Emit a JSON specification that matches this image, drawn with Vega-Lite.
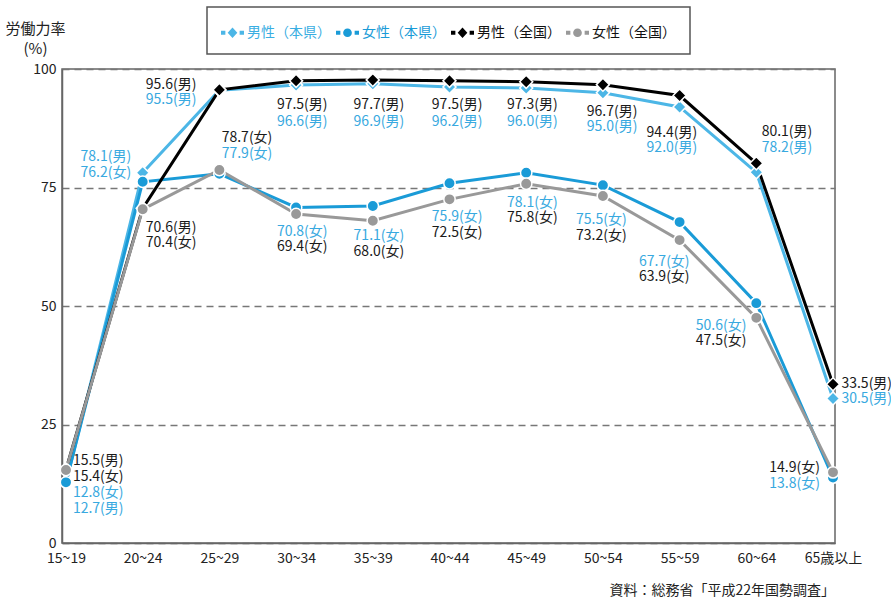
{
  "$schema": "https://vega.github.io/schema/vega-lite/v6.json",
  "width": 773,
  "height": 474,
  "autosize": {"type": "none"},
  "padding": {"left": 62, "top": 69, "right": 56, "bottom": 55},
  "background": "white",
  "config": {
    "font": "Noto Sans CJK JP",
    "view": {"stroke": "#666", "strokeWidth": 1.5},
    "axis": {"labelFont": "Noto Sans CJK JP", "titleFont": "Noto Sans CJK JP"},
    "legend": {"labelFont": "Noto Sans CJK JP"}
  },
  "title": {
    "text": "資料：総務省「平成22年国勢調査」",
    "orient": "bottom",
    "anchor": "end",
    "frame": "group",
    "fontSize": 14,
    "fontWeight": "normal",
    "color": "#222",
    "offset": 19
  },
  "datasets": {
    "main": [
      {"series": "男性（本県）", "start": 15, "value": 12.7},
      {"series": "男性（本県）", "start": 20, "value": 78.1},
      {"series": "男性（本県）", "start": 25, "value": 95.5},
      {"series": "男性（本県）", "start": 30, "value": 96.6},
      {"series": "男性（本県）", "start": 35, "value": 96.9},
      {"series": "男性（本県）", "start": 40, "value": 96.2},
      {"series": "男性（本県）", "start": 45, "value": 96.0},
      {"series": "男性（本県）", "start": 50, "value": 95.0},
      {"series": "男性（本県）", "start": 55, "value": 92.0},
      {"series": "男性（本県）", "start": 60, "value": 78.2},
      {"series": "男性（本県）", "start": 65, "value": 30.5},
      {"series": "女性（本県）", "start": 15, "value": 12.8},
      {"series": "女性（本県）", "start": 20, "value": 76.2},
      {"series": "女性（本県）", "start": 25, "value": 77.9},
      {"series": "女性（本県）", "start": 30, "value": 70.8},
      {"series": "女性（本県）", "start": 35, "value": 71.1},
      {"series": "女性（本県）", "start": 40, "value": 75.9},
      {"series": "女性（本県）", "start": 45, "value": 78.1},
      {"series": "女性（本県）", "start": 50, "value": 75.5},
      {"series": "女性（本県）", "start": 55, "value": 67.7},
      {"series": "女性（本県）", "start": 60, "value": 50.6},
      {"series": "女性（本県）", "start": 65, "value": 13.8},
      {"series": "男性（全国）", "start": 15, "value": 15.5},
      {"series": "男性（全国）", "start": 20, "value": 70.6},
      {"series": "男性（全国）", "start": 25, "value": 95.6},
      {"series": "男性（全国）", "start": 30, "value": 97.5},
      {"series": "男性（全国）", "start": 35, "value": 97.7},
      {"series": "男性（全国）", "start": 40, "value": 97.5},
      {"series": "男性（全国）", "start": 45, "value": 97.3},
      {"series": "男性（全国）", "start": 50, "value": 96.7},
      {"series": "男性（全国）", "start": 55, "value": 94.4},
      {"series": "男性（全国）", "start": 60, "value": 80.1},
      {"series": "男性（全国）", "start": 65, "value": 33.5},
      {"series": "女性（全国）", "start": 15, "value": 15.4},
      {"series": "女性（全国）", "start": 20, "value": 70.4},
      {"series": "女性（全国）", "start": 25, "value": 78.7},
      {"series": "女性（全国）", "start": 30, "value": 69.4},
      {"series": "女性（全国）", "start": 35, "value": 68.0},
      {"series": "女性（全国）", "start": 40, "value": 72.5},
      {"series": "女性（全国）", "start": 45, "value": 75.8},
      {"series": "女性（全国）", "start": 50, "value": 73.2},
      {"series": "女性（全国）", "start": 55, "value": 63.9},
      {"series": "女性（全国）", "start": 60, "value": 47.5},
      {"series": "女性（全国）", "start": 65, "value": 14.9}
    ],
    "labels": [
      {"series": "男性（全国）", "text": "15.5(男)", "lx": 17.1, "ly": 17.3},
      {"series": "女性（全国）", "text": "15.4(女)", "lx": 17.1, "ly": 13.9},
      {"series": "女性（本県）", "text": "12.8(女)", "lx": 17.1, "ly": 10.5},
      {"series": "男性（本県）", "text": "12.7(男)", "lx": 17.1, "ly": 7.2},
      {"series": "男性（本県）", "text": "78.1(男)", "lx": 17.6, "ly": 81.4},
      {"series": "女性（本県）", "text": "76.2(女)", "lx": 17.6, "ly": 78.1},
      {"series": "男性（全国）", "text": "70.6(男)", "lx": 21.85, "ly": 66.5},
      {"series": "女性（全国）", "text": "70.4(女)", "lx": 21.85, "ly": 63.3},
      {"series": "男性（全国）", "text": "95.6(男)", "lx": 21.85, "ly": 96.6},
      {"series": "男性（本県）", "text": "95.5(男)", "lx": 21.85, "ly": 93.5},
      {"series": "女性（全国）", "text": "78.7(女)", "lx": 26.8, "ly": 85.4},
      {"series": "女性（本県）", "text": "77.9(女)", "lx": 26.8, "ly": 82.1},
      {"series": "男性（全国）", "text": "97.5(男)", "lx": 30.4, "ly": 92.4},
      {"series": "男性（本県）", "text": "96.6(男)", "lx": 30.4, "ly": 88.8},
      {"series": "女性（本県）", "text": "70.8(女)", "lx": 30.4, "ly": 65.6},
      {"series": "女性（全国）", "text": "69.4(女)", "lx": 30.4, "ly": 62.4},
      {"series": "男性（全国）", "text": "97.7(男)", "lx": 35.4, "ly": 92.4},
      {"series": "男性（本県）", "text": "96.9(男)", "lx": 35.4, "ly": 88.8},
      {"series": "女性（本県）", "text": "71.1(女)", "lx": 35.4, "ly": 64.8},
      {"series": "女性（全国）", "text": "68.0(女)", "lx": 35.4, "ly": 61.4},
      {"series": "男性（全国）", "text": "97.5(男)", "lx": 40.5, "ly": 92.4},
      {"series": "男性（本県）", "text": "96.2(男)", "lx": 40.5, "ly": 88.8},
      {"series": "女性（本県）", "text": "75.9(女)", "lx": 40.5, "ly": 68.8},
      {"series": "女性（全国）", "text": "72.5(女)", "lx": 40.5, "ly": 65.4},
      {"series": "男性（全国）", "text": "97.3(男)", "lx": 45.4, "ly": 92.4},
      {"series": "男性（本県）", "text": "96.0(男)", "lx": 45.4, "ly": 88.8},
      {"series": "女性（本県）", "text": "78.1(女)", "lx": 45.4, "ly": 71.7},
      {"series": "女性（全国）", "text": "75.8(女)", "lx": 45.4, "ly": 68.6},
      {"series": "男性（全国）", "text": "96.7(男)", "lx": 50.6, "ly": 90.9},
      {"series": "男性（本県）", "text": "95.0(男)", "lx": 50.6, "ly": 87.8},
      {"series": "女性（本県）", "text": "75.5(女)", "lx": 49.9, "ly": 68.1},
      {"series": "女性（全国）", "text": "73.2(女)", "lx": 49.9, "ly": 64.8},
      {"series": "男性（全国）", "text": "94.4(男)", "lx": 54.5, "ly": 86.5},
      {"series": "男性（本県）", "text": "92.0(男)", "lx": 54.5, "ly": 83.3},
      {"series": "女性（本県）", "text": "67.7(女)", "lx": 54.0, "ly": 59.3},
      {"series": "女性（全国）", "text": "63.9(女)", "lx": 54.0, "ly": 56.1},
      {"series": "男性（全国）", "text": "80.1(男)", "lx": 62.0, "ly": 86.7},
      {"series": "男性（本県）", "text": "78.2(男)", "lx": 62.0, "ly": 83.3},
      {"series": "女性（本県）", "text": "50.6(女)", "lx": 57.7, "ly": 45.8},
      {"series": "女性（全国）", "text": "47.5(女)", "lx": 57.7, "ly": 42.6},
      {"series": "男性（全国）", "text": "33.5(男)", "lx": 67.2, "ly": 33.5},
      {"series": "男性（本県）", "text": "30.5(男)", "lx": 67.2, "ly": 30.4},
      {"series": "女性（全国）", "text": "14.9(女)", "lx": 62.5, "ly": 15.8},
      {"series": "女性（本県）", "text": "13.8(女)", "lx": 62.5, "ly": 12.45}
    ]
  },
  "layer": [
    {
      "data": {"name": "main"},
      "mark": {"type": "line", "strokeWidth": 3},
      "encoding": {
        "x": {
          "field": "start",
          "type": "quantitative",
          "scale": {"domain": [14.74, 65.13], "nice": false, "zero": false},
          "axis": {
            "title": null,
            "values": [15, 20, 25, 30, 35, 40, 45, 50, 55, 60, 65],
            "labelExpr": "datum.value == 65 ? '65歳以上' : datum.value + '~' + (datum.value + 4)",
            "grid": false,
            "ticks": false,
            "domainColor": "#666",
            "domainWidth": 1.5,
            "labelFontSize": 14,
            "labelColor": "#222",
            "labelPadding": 8,
            "labelFlush": false,
            "labelOverlap": false
          }
        },
        "y": {
          "field": "value",
          "type": "quantitative",
          "scale": {"domain": [0, 100], "nice": false},
          "axis": {
            "title": ["労働力率", "(%)"],
            "titleAngle": 0,
            "titleAlign": "center",
            "titleBaseline": "alphabetic",
            "titleX": -27,
            "titleY": -36,
            "titleFontSize": 15,
            "titleFontWeight": "normal",
            "titleColor": "#222",
            "titleLineHeight": 20,
            "values": [0, 25, 50, 75, 100],
            "ticks": false,
            "grid": true,
            "gridDash": [7, 5],
            "gridColor": "#777",
            "gridWidth": 1.5,
            "domainColor": "#666",
            "domainWidth": 1.5,
            "labelFontSize": 14,
            "labelColor": "#222",
            "labelPadding": 6
          }
        },
        "color": {
          "field": "series",
          "type": "nominal",
          "scale": {
            "domain": ["男性（本県）", "女性（本県）", "男性（全国）", "女性（全国）"],
            "range": ["#4cb6e6", "#1a9bd7", "#000000", "#999999"]
          },
          "legend": {
            "title": null,
            "orient": "none",
            "legendX": 145,
            "legendY": -62,
            "direction": "horizontal",
            "columns": 4,
            "padding": 14,
            "strokeColor": "#555",
            "fillColor": "white",
            "labelFontSize": 14,
            "labelOffset": 3,
            "columnPadding": 5,
            "symbolSize": 529,
            "symbolStrokeWidth": 0,
            "labelLimit": 200,
            "encode": {
              "legend": {"update": {"strokeWidth": {"value": 1.5}}},
              "symbols": {
                "update": {
                  "shape": {"signal": "indexof(datum.value, '男性') >= 0 ? 'M-1,-0.17H-0.62V0.17H-1Z M-0.42,0L0,-0.45L0.42,0L0,0.45Z M0.62,-0.17H1V0.17H0.62Z' : 'M-1,-0.17H-0.62V0.17H-1Z M-0.38,0A0.38,0.38,0,1,0,0.38,0A0.38,0.38,0,1,0,-0.38,0Z M0.62,-0.17H1V0.17H0.62Z'"},
                  "fill": {"signal": "datum.value == '男性（本県）' ? '#4cb6e6' : datum.value == '女性（本県）' ? '#1a9bd7' : datum.value == '男性（全国）' ? '#000000' : '#999999'"},
                  "stroke": {"value": "transparent"},
                  "strokeWidth": {"value": 0},
                  "opacity": {"value": 1},
                  "fillOpacity": {"value": 1}
                }
              },
              "labels": {
                "update": {
                  "fill": {"signal": "datum.value == '男性（本県）' ? '#3aaee2' : datum.value == '女性（本県）' ? '#1a9bd7' : '#111111'"}
                }
              }
            }
          }
        },
        "order": {"field": "start", "type": "quantitative"}
      }
    },
    {
      "data": {"name": "main"},
      "transform": [{"filter": "indexof(datum.series, '男性') >= 0"}],
      "mark": {"type": "point", "shape": "diamond", "size": 170, "filled": true, "opacity": 1, "stroke": "white", "strokeWidth": 1.5},
      "encoding": {
        "x": {"field": "start", "type": "quantitative"},
        "y": {"field": "value", "type": "quantitative"},
        "color": {"field": "series", "type": "nominal"}
      }
    },
    {
      "data": {"name": "main"},
      "transform": [{"filter": "indexof(datum.series, '女性') >= 0"}],
      "mark": {"type": "point", "shape": "circle", "size": 130, "filled": true, "opacity": 1, "stroke": "white", "strokeWidth": 1.5},
      "encoding": {
        "x": {"field": "start", "type": "quantitative"},
        "y": {"field": "value", "type": "quantitative"},
        "color": {"field": "series", "type": "nominal"}
      }
    },
    {
      "data": {"name": "labels"},
      "mark": {"type": "text", "align": "center", "baseline": "middle", "fontSize": 14, "font": "Noto Sans CJK JP"},
      "encoding": {
        "x": {"field": "lx", "type": "quantitative"},
        "y": {"field": "ly", "type": "quantitative"},
        "text": {"field": "text"},
        "color": {
          "condition": {"test": "indexof(datum.series, '本県') >= 0", "value": "#38a9e0"},
          "value": "#1a1a1a"
        }
      }
    }
  ]
}
